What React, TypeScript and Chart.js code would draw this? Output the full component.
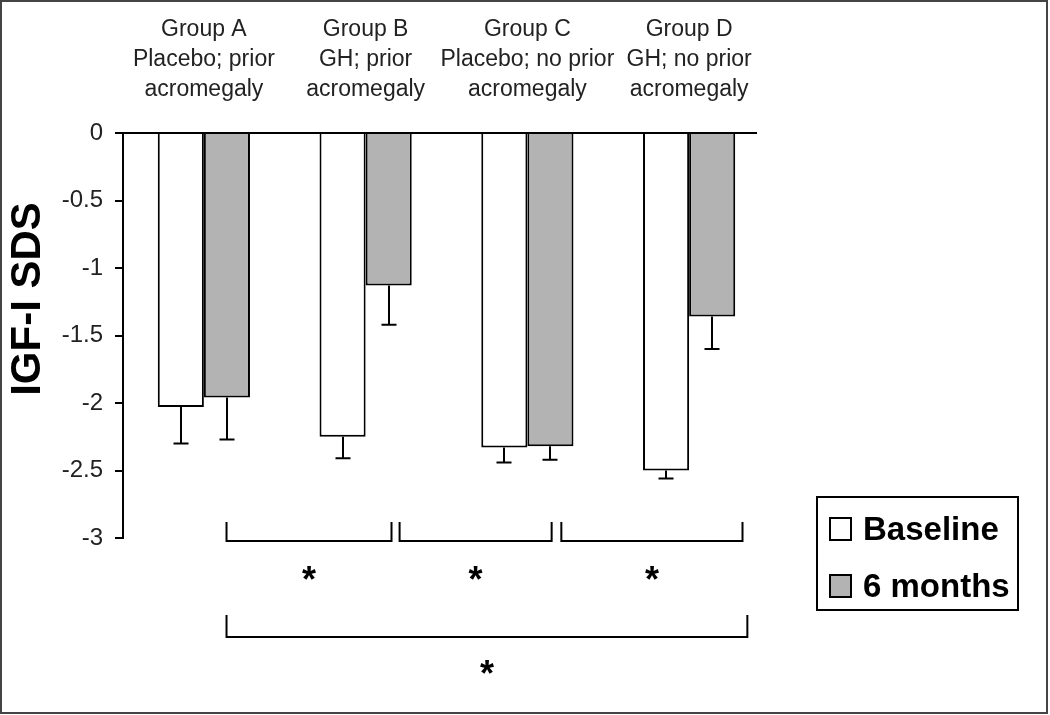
import React, { useEffect, useRef } from "react";
import { Chart, registerables } from "chart.js";

Chart.register(...registerables);

// ---------- data ----------
const groupLabels: string[][] = [
  ["Group A", "Placebo; prior", "acromegaly"],
  ["Group B", "GH; prior", "acromegaly"],
  ["Group C", "Placebo; no prior", "acromegaly"],
  ["Group D", "GH; no prior", "acromegaly"],
];
const seriesNames = ["Baseline", "6 months"];
const baselineValues = [-2.03, -2.25, -2.33, -2.5];
const sixMonthValues = [-1.96, -1.13, -2.32, -1.36];
const baselineErrors = [0.27, 0.16, 0.11, 0.06];
const sixMonthErrors = [0.31, 0.29, 0.1, 0.24];
const yTickValues = [0, -0.5, -1, -1.5, -2, -2.5, -3];
const yAxisTitle = "IGF-I SDS";
// significance comparisons (category-axis positions), row, and mark
const bracketFrom = [0.14, 1.21, 2.21, 0.14];
const bracketTo = [1.16, 2.15, 3.33, 3.36];
const bracketRow = [0, 0, 0, 1];
const bracketMark = ["*", "*", "*", "*"];

const FONT = "'Liberation Sans', Arial, Helvetica, sans-serif";
const barColors = ["#ffffff", "#b3b3b3"];

const decorPlugin = {
  id: "decor",
  beforeDraw(chart: any) {
    const ctx = chart.ctx;
    ctx.save();
    ctx.fillStyle = "#ffffff";
    ctx.fillRect(0, 0, chart.width, chart.height);
    ctx.restore();
  },
  afterDatasetsDraw(chart: any) {
    const { ctx, chartArea, scales } = chart;
    const xs = scales.x;
    const ys = scales.y;
    const errs = [baselineErrors, sixMonthErrors];
    ctx.save();
    ctx.strokeStyle = "#000";
    ctx.lineWidth = 2;
    ctx.lineCap = "butt";
    chart.data.datasets.forEach((ds: any, di: number) => {
      const meta = chart.getDatasetMeta(di);
      meta.data.forEach((el: any, i: number) => {
        const v = ds.data[i];
        const e = errs[di][i];
        const px = Math.round(el.x);
        const y0 = el.y;
        const y1 = ys.getPixelForValue(v - e);
        ctx.beginPath();
        ctx.moveTo(px, y0);
        ctx.lineTo(px, y1);
        ctx.moveTo(px - 7.5, y1);
        ctx.lineTo(px + 7.5, y1);
        ctx.stroke();
      });
    });
    // zero line
    const y0 = ys.getPixelForValue(0);
    ctx.beginPath();
    ctx.moveTo(chartArea.left, y0);
    ctx.lineTo(xs.getPixelForValue(3.42), y0);
    ctx.stroke();
    ctx.restore();
  },
  afterDraw(chart: any) {
    const { ctx, chartArea, scales } = chart;
    const xs = scales.x;
    ctx.save();
    // outer frame
    ctx.strokeStyle = "#444";
    ctx.lineWidth = 2;
    ctx.strokeRect(1, 1, chart.width - 4, chart.height - 3);

    // y-axis title
    ctx.save();
    ctx.translate(28, 299);
    ctx.rotate(-Math.PI / 2);
    ctx.fillStyle = "#000";
    ctx.font = `bold 42px ${FONT}`;
    ctx.textAlign = "center";
    ctx.textBaseline = "middle";
    ctx.fillText(yAxisTitle, 0, 0);
    ctx.restore();

    // significance brackets
    const b = chartArea.bottom;
    const rows = [
      { top: b - 16, line: b + 3, star: b + 54 },
      { top: b + 77, line: b + 99, star: b + 148 },
    ];
    ctx.strokeStyle = "#000";
    ctx.lineWidth = 2;
    ctx.fillStyle = "#000";
    ctx.font = `bold 36px ${FONT}`;
    ctx.textAlign = "center";
    ctx.textBaseline = "alphabetic";
    bracketFrom.forEach((f, i) => {
      const r = rows[bracketRow[i]];
      const x1 = xs.getPixelForValue(f);
      const x2 = xs.getPixelForValue(bracketTo[i]);
      ctx.beginPath();
      ctx.moveTo(x1, r.top);
      ctx.lineTo(x1, r.line);
      ctx.lineTo(x2, r.line);
      ctx.lineTo(x2, r.top);
      ctx.stroke();
      ctx.fillText(bracketMark[i], (x1 + x2) / 2, r.star);
    });

    // legend
    const lx = chartArea.right + 47;
    const ly = chartArea.bottom - 41;
    ctx.lineWidth = 2;
    ctx.strokeRect(lx, ly, 201, 113);
    ctx.font = `bold 33px ${FONT}`;
    ctx.textAlign = "left";
    seriesNames.forEach((name, i) => {
      const sy = ly + 21 + i * 57;
      ctx.fillStyle = barColors[i];
      ctx.fillRect(lx + 13, sy, 21, 22);
      ctx.strokeStyle = "#000";
      ctx.strokeRect(lx + 13, sy, 21, 22);
      ctx.fillStyle = "#000";
      ctx.fillText(name, lx + 46, sy + 22);
    });
    ctx.restore();
  },
};

export default function App() {
  const canvasRef = useRef<HTMLCanvasElement | null>(null);

  useEffect(() => {
    if (!canvasRef.current) return;
    const chart = new Chart(canvasRef.current, {
      type: "bar",
      data: {
        labels: groupLabels,
        datasets: [
          {
            label: seriesNames[0],
            data: baselineValues,
            backgroundColor: barColors[0],
            borderColor: "#000",
            borderWidth: 2,
            categoryPercentage: 0.57,
            barPercentage: 1,
          },
          {
            label: seriesNames[1],
            data: sixMonthValues,
            backgroundColor: barColors[1],
            borderColor: "#000",
            borderWidth: 2,
            categoryPercentage: 0.57,
            barPercentage: 1,
          },
        ],
      },
      options: {
        responsive: false,
        animation: false,
        layout: { padding: { left: 0, top: 0, right: 280, bottom: 177 } },
        plugins: {
          legend: { display: false },
          tooltip: { enabled: false },
          title: { display: false },
        },
        scales: {
          x: {
            position: "top",
            afterFit: (s: any) => {
              s.height = 133;
            },
            grid: { display: false, drawTicks: false },
            border: { display: false },
            ticks: {
              autoSkip: false,
              maxRotation: 0,
              minRotation: 0,
              padding: 28,
              color: "#222",
              font: { family: FONT, size: 23, lineHeight: "30px" },
            },
          },
          y: {
            min: -3,
            max: 0,
            afterFit: (s: any) => {
              s.width = 123;
            },
            afterBuildTicks: (s: any) => {
              s.ticks = yTickValues.map((v) => ({ value: v }));
            },
            border: { display: true, color: "#000", width: 2 },
            grid: {
              display: true,
              drawOnChartArea: false,
              drawTicks: true,
              tickLength: 8,
              color: "#000",
              lineWidth: 2,
            },
            ticks: {
              padding: 12,
              color: "#222",
              font: { family: FONT, size: 24 },
              callback: (v: any) => String(v),
            },
          },
        },
      },
      plugins: [decorPlugin],
    });
    return () => chart.destroy();
  }, []);

  return (
    <div style={{ position: "absolute", left: 0, top: 0, width: 1050, height: 715 }}>
      <canvas ref={canvasRef} width={1050} height={715} style={{ display: "block" }} />
    </div>
  );
}
